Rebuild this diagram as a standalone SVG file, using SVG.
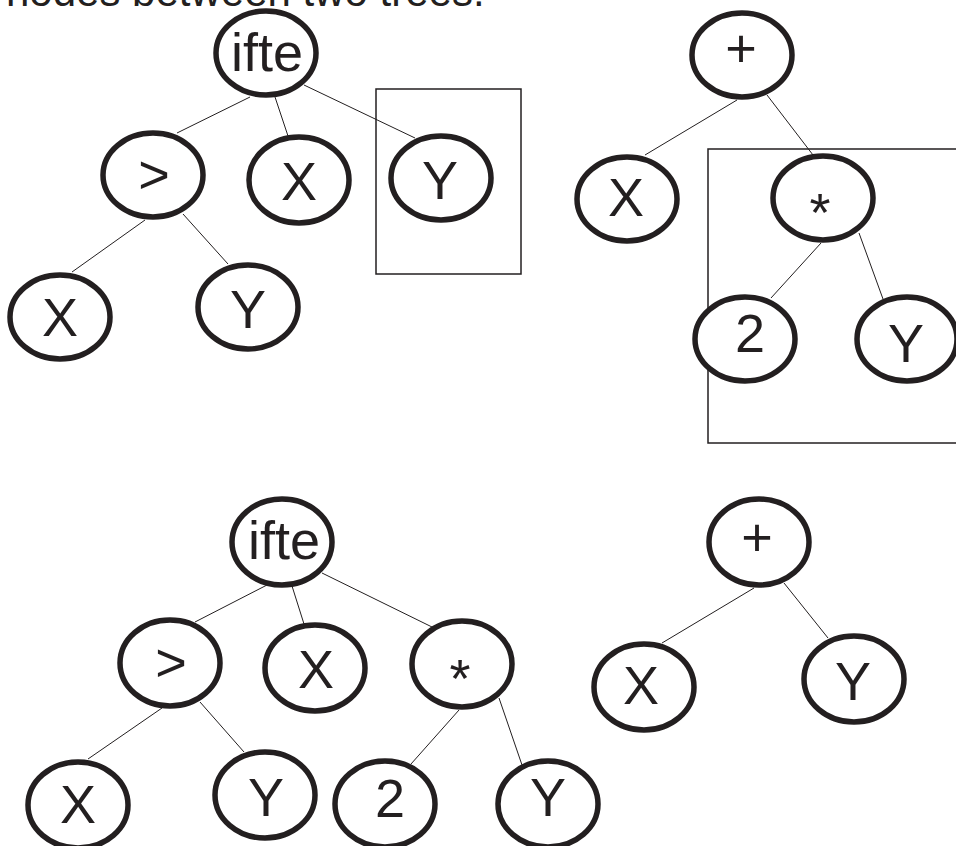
<svg xmlns="http://www.w3.org/2000/svg" width="956" height="846" viewBox="0 0 956 846">
<style>
.n ellipse{fill:#fff;stroke:#231f20;stroke-width:5.5}
.n text{font-family:"Liberation Sans",Arial,sans-serif;font-size:54px;fill:#231f20;text-anchor:middle}
.c line{stroke:#231f20;stroke-width:1}
.box{fill:none;stroke:#231f20;stroke-width:1.5}
.title{font-family:"Liberation Sans",Arial,sans-serif;font-size:42px;fill:#231f20}
</style>
<rect width="956" height="846" fill="#fff"/>
<text class="title" x="6" y="6">nodes between two trees.</text>
<rect class="box" x="376" y="89" width="145" height="185"/>
<rect class="box" x="708" y="149" width="260" height="294"/>
<g class="c" id="connectors">
<line x1="250" y1="97" x2="177" y2="133"/>
<line x1="275" y1="97" x2="288" y2="136"/>
<line x1="304" y1="85" x2="415" y2="138"/>
<line x1="145" y1="220" x2="72" y2="272"/>
<line x1="183" y1="214" x2="228" y2="264"/>
<line x1="737" y1="100" x2="645" y2="155"/>
<line x1="767" y1="95" x2="813" y2="155"/>
<line x1="821" y1="243" x2="771" y2="298"/>
<line x1="859" y1="233" x2="883" y2="299"/>
<line x1="267" y1="585" x2="195" y2="622"/>
<line x1="292" y1="586" x2="304" y2="624"/>
<line x1="322" y1="573" x2="432" y2="627"/>
<line x1="162" y1="708" x2="88" y2="759"/>
<line x1="200" y1="702" x2="244" y2="752"/>
<line x1="459" y1="710" x2="411" y2="764"/>
<line x1="499" y1="698" x2="522" y2="765"/>
<line x1="754" y1="588" x2="662" y2="643"/>
<line x1="784" y1="583" x2="828" y2="638"/>
</g>
<g class="n" id="t1-ifte"><ellipse cx="266" cy="53" rx="50" ry="42"/><text x="267" y="71">ifte</text></g>
<g class="n" id="t1-gt"><ellipse cx="153" cy="175" rx="50" ry="42"/><text x="154" y="193">&gt;</text></g>
<g class="n" id="t1-x"><ellipse cx="299" cy="180" rx="50" ry="43"/><text x="299" y="200">X</text></g>
<g class="n" id="t1-y"><ellipse cx="441" cy="178" rx="50" ry="42"/><text x="440" y="199">Y</text></g>
<g class="n" id="t1-gx"><ellipse cx="60" cy="317" rx="50" ry="42"/><text x="60" y="336">X</text></g>
<g class="n" id="t1-gy"><ellipse cx="248" cy="307" rx="50" ry="42"/><text x="248" y="328">Y</text></g>
<g class="n" id="t2-plus"><ellipse cx="742" cy="55" rx="50" ry="42"/><text x="741" y="67">+</text></g>
<g class="n" id="t2-x"><ellipse cx="627" cy="199" rx="50" ry="42"/><text x="626" y="216">X</text></g>
<g class="n" id="t2-mul"><ellipse cx="823" cy="198" rx="50" ry="42"/><text x="820" y="231">*</text></g>
<g class="n" id="t2-2"><ellipse cx="745" cy="339" rx="50" ry="42"/><text x="750" y="352">2</text></g>
<g class="n" id="t2-y"><ellipse cx="907" cy="339" rx="50" ry="42"/><text x="906" y="362">Y</text></g>
<g class="n" id="t3-ifte"><ellipse cx="282" cy="542" rx="50" ry="43"/><text x="284" y="559">ifte</text></g>
<g class="n" id="t3-gt"><ellipse cx="170" cy="663" rx="50" ry="43"/><text x="171" y="681">&gt;</text></g>
<g class="n" id="t3-x"><ellipse cx="315" cy="668" rx="50" ry="43"/><text x="316" y="688">X</text></g>
<g class="n" id="t3-mul"><ellipse cx="462" cy="664" rx="50" ry="43"/><text x="460" y="697">*</text></g>
<g class="n" id="t3-gx"><ellipse cx="78" cy="805" rx="50" ry="43"/><text x="78" y="823">X</text></g>
<g class="n" id="t3-gy"><ellipse cx="265" cy="795" rx="50" ry="43"/><text x="266" y="816">Y</text></g>
<g class="n" id="t3-2"><ellipse cx="385" cy="804" rx="50" ry="43"/><text x="390" y="817">2</text></g>
<g class="n" id="t3-my"><ellipse cx="548" cy="804" rx="50" ry="43"/><text x="548" y="816">Y</text></g>
<g class="n" id="t4-plus"><ellipse cx="759" cy="542" rx="50" ry="43"/><text x="757" y="556">+</text></g>
<g class="n" id="t4-x"><ellipse cx="644" cy="687" rx="50" ry="43"/><text x="641" y="704">X</text></g>
<g class="n" id="t4-y"><ellipse cx="854" cy="679" rx="50" ry="43"/><text x="853" y="700">Y</text></g>
</svg>
